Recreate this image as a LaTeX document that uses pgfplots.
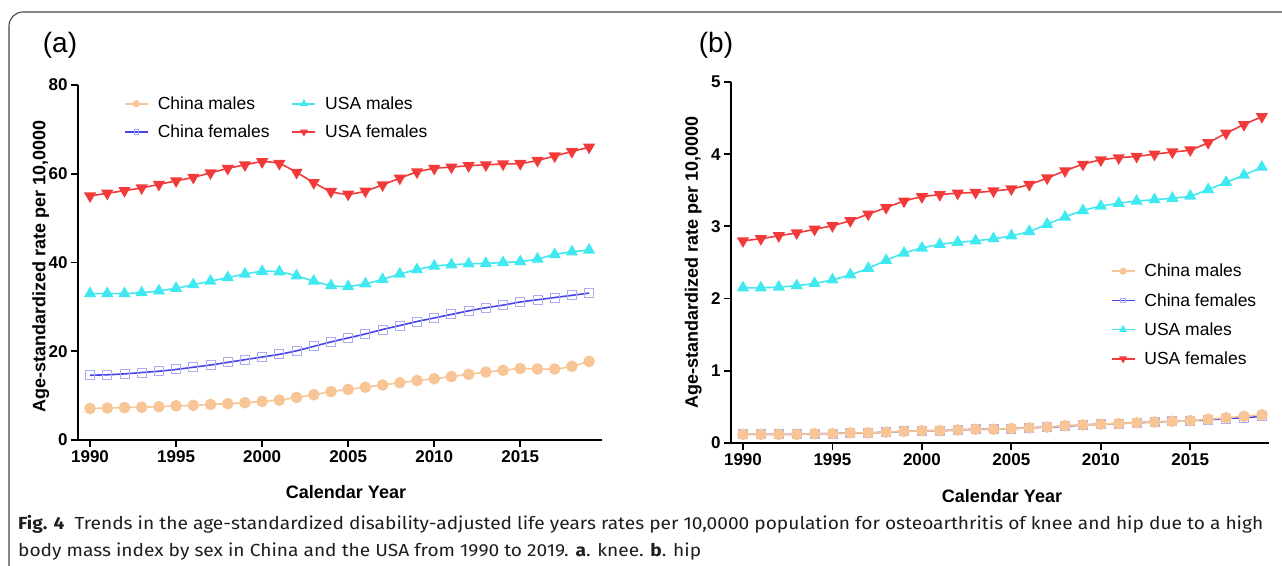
\documentclass[border=0pt]{standalone}
\usepackage{fontspec}
\setmainfont{Liberation Sans}
\newfontfamily\capfont{Fira Sans}
\usepackage{graphicx}
\usepackage{pgfplots}
\usepackage{pgfplotstable}
\pgfplotsset{compat=1.18}

\definecolor{cpeach}{RGB}{248,198,150}
\definecolor{cblue}{RGB}{70,70,232}
\definecolor{clav}{RGB}{172,172,242}
\definecolor{ccyan}{RGB}{64,232,240}
\definecolor{cred}{RGB}{242,58,58}
\definecolor{cframe}{RGB}{70,70,70}
\definecolor{ctext}{RGB}{30,30,30}

\pgfplotstableread{
year cm cf um uf
1990 7.1 14.6 33.0 55.0
1991 7.2 14.7 33.0 55.6
1992 7.3 14.9 33.0 56.2
1993 7.4 15.2 33.2 56.8
1994 7.5 15.5 33.6 57.6
1995 7.7 15.9 34.2 58.4
1996 7.8 16.4 35.0 59.2
1997 8.0 16.9 35.8 60.2
1998 8.2 17.5 36.6 61.2
1999 8.4 18.1 37.4 62.0
2000 8.7 18.7 38.0 62.7
2001 9.0 19.3 37.9 62.3
2002 9.6 20.1 37.0 60.3
2003 10.2 21.1 35.8 58.0
2004 10.9 22.1 34.8 56.0
2005 11.4 23.0 34.6 55.4
2006 11.9 23.9 35.2 56.1
2007 12.4 24.9 36.2 57.5
2008 12.9 25.8 37.4 59.0
2009 13.4 26.7 38.4 60.4
2010 13.8 27.5 39.2 61.2
2011 14.3 28.3 39.5 61.5
2012 14.8 29.1 39.7 61.8
2013 15.3 29.8 39.8 62.0
2014 15.7 30.4 40.0 62.2
2015 16.1 31.1 40.2 62.3
2016 16.0 31.6 40.8 63.0
2017 16.0 32.1 41.8 64.0
2018 16.6 32.6 42.4 65.0
2019 17.7 33.1 42.8 66.0
}\knee

\pgfplotstableread{
year cm cf um uf
1990 0.12 0.12 2.15 2.80
1991 0.12 0.12 2.15 2.83
1992 0.12 0.12 2.16 2.87
1993 0.12 0.12 2.18 2.91
1994 0.13 0.13 2.21 2.96
1995 0.13 0.13 2.26 3.01
1996 0.14 0.14 2.33 3.08
1997 0.14 0.14 2.42 3.17
1998 0.15 0.15 2.53 3.26
1999 0.16 0.16 2.63 3.35
2000 0.17 0.17 2.70 3.41
2001 0.17 0.17 2.75 3.44
2002 0.18 0.18 2.78 3.46
2003 0.19 0.19 2.80 3.47
2004 0.19 0.19 2.83 3.49
2005 0.20 0.20 2.87 3.52
2006 0.21 0.21 2.93 3.58
2007 0.22 0.22 3.03 3.67
2008 0.24 0.23 3.13 3.77
2009 0.25 0.25 3.22 3.86
2010 0.26 0.26 3.28 3.92
2011 0.27 0.27 3.32 3.95
2012 0.28 0.28 3.35 3.97
2013 0.29 0.29 3.37 4.00
2014 0.30 0.30 3.39 4.03
2015 0.31 0.31 3.42 4.06
2016 0.33 0.32 3.51 4.16
2017 0.35 0.34 3.61 4.29
2018 0.37 0.35 3.71 4.41
2019 0.39 0.37 3.82 4.52
}\hip

\pgfplotsset{
  prism/.style={
    scale only axis,
    axis lines=left,
    axis line style={line width=1.8pt,-,black},
    every tick/.style={line width=1.8pt,black},
    tick align=outside,
    major tick length=7pt,
    xtick={1990,1995,...,2015},
    ticklabel style={font=\bfseries\fontsize{17}{17}\selectfont},
    /pgf/number format/assume math mode=true,
    /pgf/number format/1000 sep={},
    label style={font=\bfseries\fontsize{18}{18}\selectfont},
    xlabel={Calendar Year},
    ylabel={Age-standardized rate per 10,0000},
    legend cell align=left,
    legend style={draw=none,fill=none,font=\fontsize{17.5}{17.5}\selectfont,
      row sep=10pt,
      /tikz/every odd column/.append style={column sep=7pt}},
    legend image code/.code={\draw[mark repeat=2,mark phase=2,every mark/.append style={scale=0.55}]
      plot coordinates {(0pt,0pt) (11.5pt,0pt) (23pt,0pt)};},
    clip=false,
  },
  cm/.style={color=cpeach,line width=1.6pt,smooth,tension=0.5,mark=*,mark size=5pt,mark options={fill=cpeach,draw=cpeach}},
  cf/.style={color=cblue,line width=1.6pt,smooth,tension=0.5,mark=square,mark size=4.5pt,mark options={draw=clav,fill=none,line width=0.9pt}},
  um/.style={color=ccyan,line width=1.6pt,smooth,tension=0.5,mark=triangle*,mark size=5.5pt,mark options={fill=ccyan,draw=ccyan}},
  uf/.style={color=cred,line width=1.6pt,smooth,tension=0.5,mark=triangle*,mark size=5.5pt,mark options={fill=cred,draw=cred,rotate=180}},
}

\begin{document}
\begin{tikzpicture}
\useasboundingbox (0pt,0pt) rectangle (1282pt,565pt);
\fill[white] (0pt,0pt) rectangle (1282pt,565pt);
\draw[cframe,line width=1.1pt,rounded corners=14pt] (9pt,-20pt) -- (9pt,553pt) -- (1300pt,553pt);

\node[font=\fontsize{28}{28}\selectfont] at (60pt,520pt) {(a)};
\node[font=\fontsize{28}{28}\selectfont] at (716pt,520pt) {(b)};

\begin{axis}[prism,
  at={(78pt,125pt)}, anchor=south west,
  width=524pt, height=355pt,
  xmin=1989.3, xmax=2019.75, ymin=0, ymax=80,
  ytick={0,20,40,60,80},
  xlabel style={at={(axis description cs:0.5,-0.146)},anchor=center,xshift=6pt},
  ylabel style={at={(axis description cs:-0.071,0.49)},anchor=center},
  legend columns=2,
  legend style={at={(axis description cs:0.082,0.979)},anchor=north west,
    /tikz/every even column/.append style={column sep=20pt}},
]
\addplot[cm] table[x=year,y=cm] {\knee};
\addlegendentry{China males}
\addplot[um] table[x=year,y=um] {\knee};
\addlegendentry{USA males}
\addplot[cf] table[x=year,y=cf] {\knee};
\addlegendentry{China females}
\addplot[uf] table[x=year,y=uf] {\knee};
\addlegendentry{USA females}
\end{axis}

\begin{axis}[prism,
  at={(731pt,122pt)}, anchor=south west,
  width=538pt, height=361pt,
  xmin=1989.33, xmax=2019.4, ymin=0, ymax=5,
  ytick={0,1,2,3,4,5},
  xlabel style={at={(axis description cs:0.5,-0.147)},anchor=center,xshift=2pt},
  ylabel style={at={(axis description cs:-0.07,0.5)},anchor=center},
  legend style={at={(axis description cs:0.70,0.507)},anchor=north west,row sep=11pt},
]
\addlegendimage{cm}
\addlegendentry{China males}
\addlegendimage{cf}
\addlegendentry{China females}
\addlegendimage{um}
\addlegendentry{USA males}
\addlegendimage{uf}
\addlegendentry{USA females}
\addplot[cf,forget plot] table[x=year,y=cf] {\hip};
\addplot[cm,forget plot] table[x=year,y=cm] {\hip};
\addplot[um,forget plot] table[x=year,y=um] {\hip};
\addplot[uf,forget plot] table[x=year,y=uf] {\hip};
\end{axis}

\node[anchor=north west,inner sep=0pt,text=ctext] at (18pt,55pt) {\resizebox{1245pt}{\height}{\capfont\fontsize{17.5}{27}\selectfont\begin{tabular}{@{}l@{}}\textbf{Fig. 4}\ \ Trends in the age-standardized disability-adjusted life years rates per 10,0000 population for osteoarthritis of knee and hip due to a high\\ body mass index by sex in China and the USA from 1990 to 2019. \textbf{a}. knee. \textbf{b}. hip\end{tabular}}};
\end{tikzpicture}
\end{document}
